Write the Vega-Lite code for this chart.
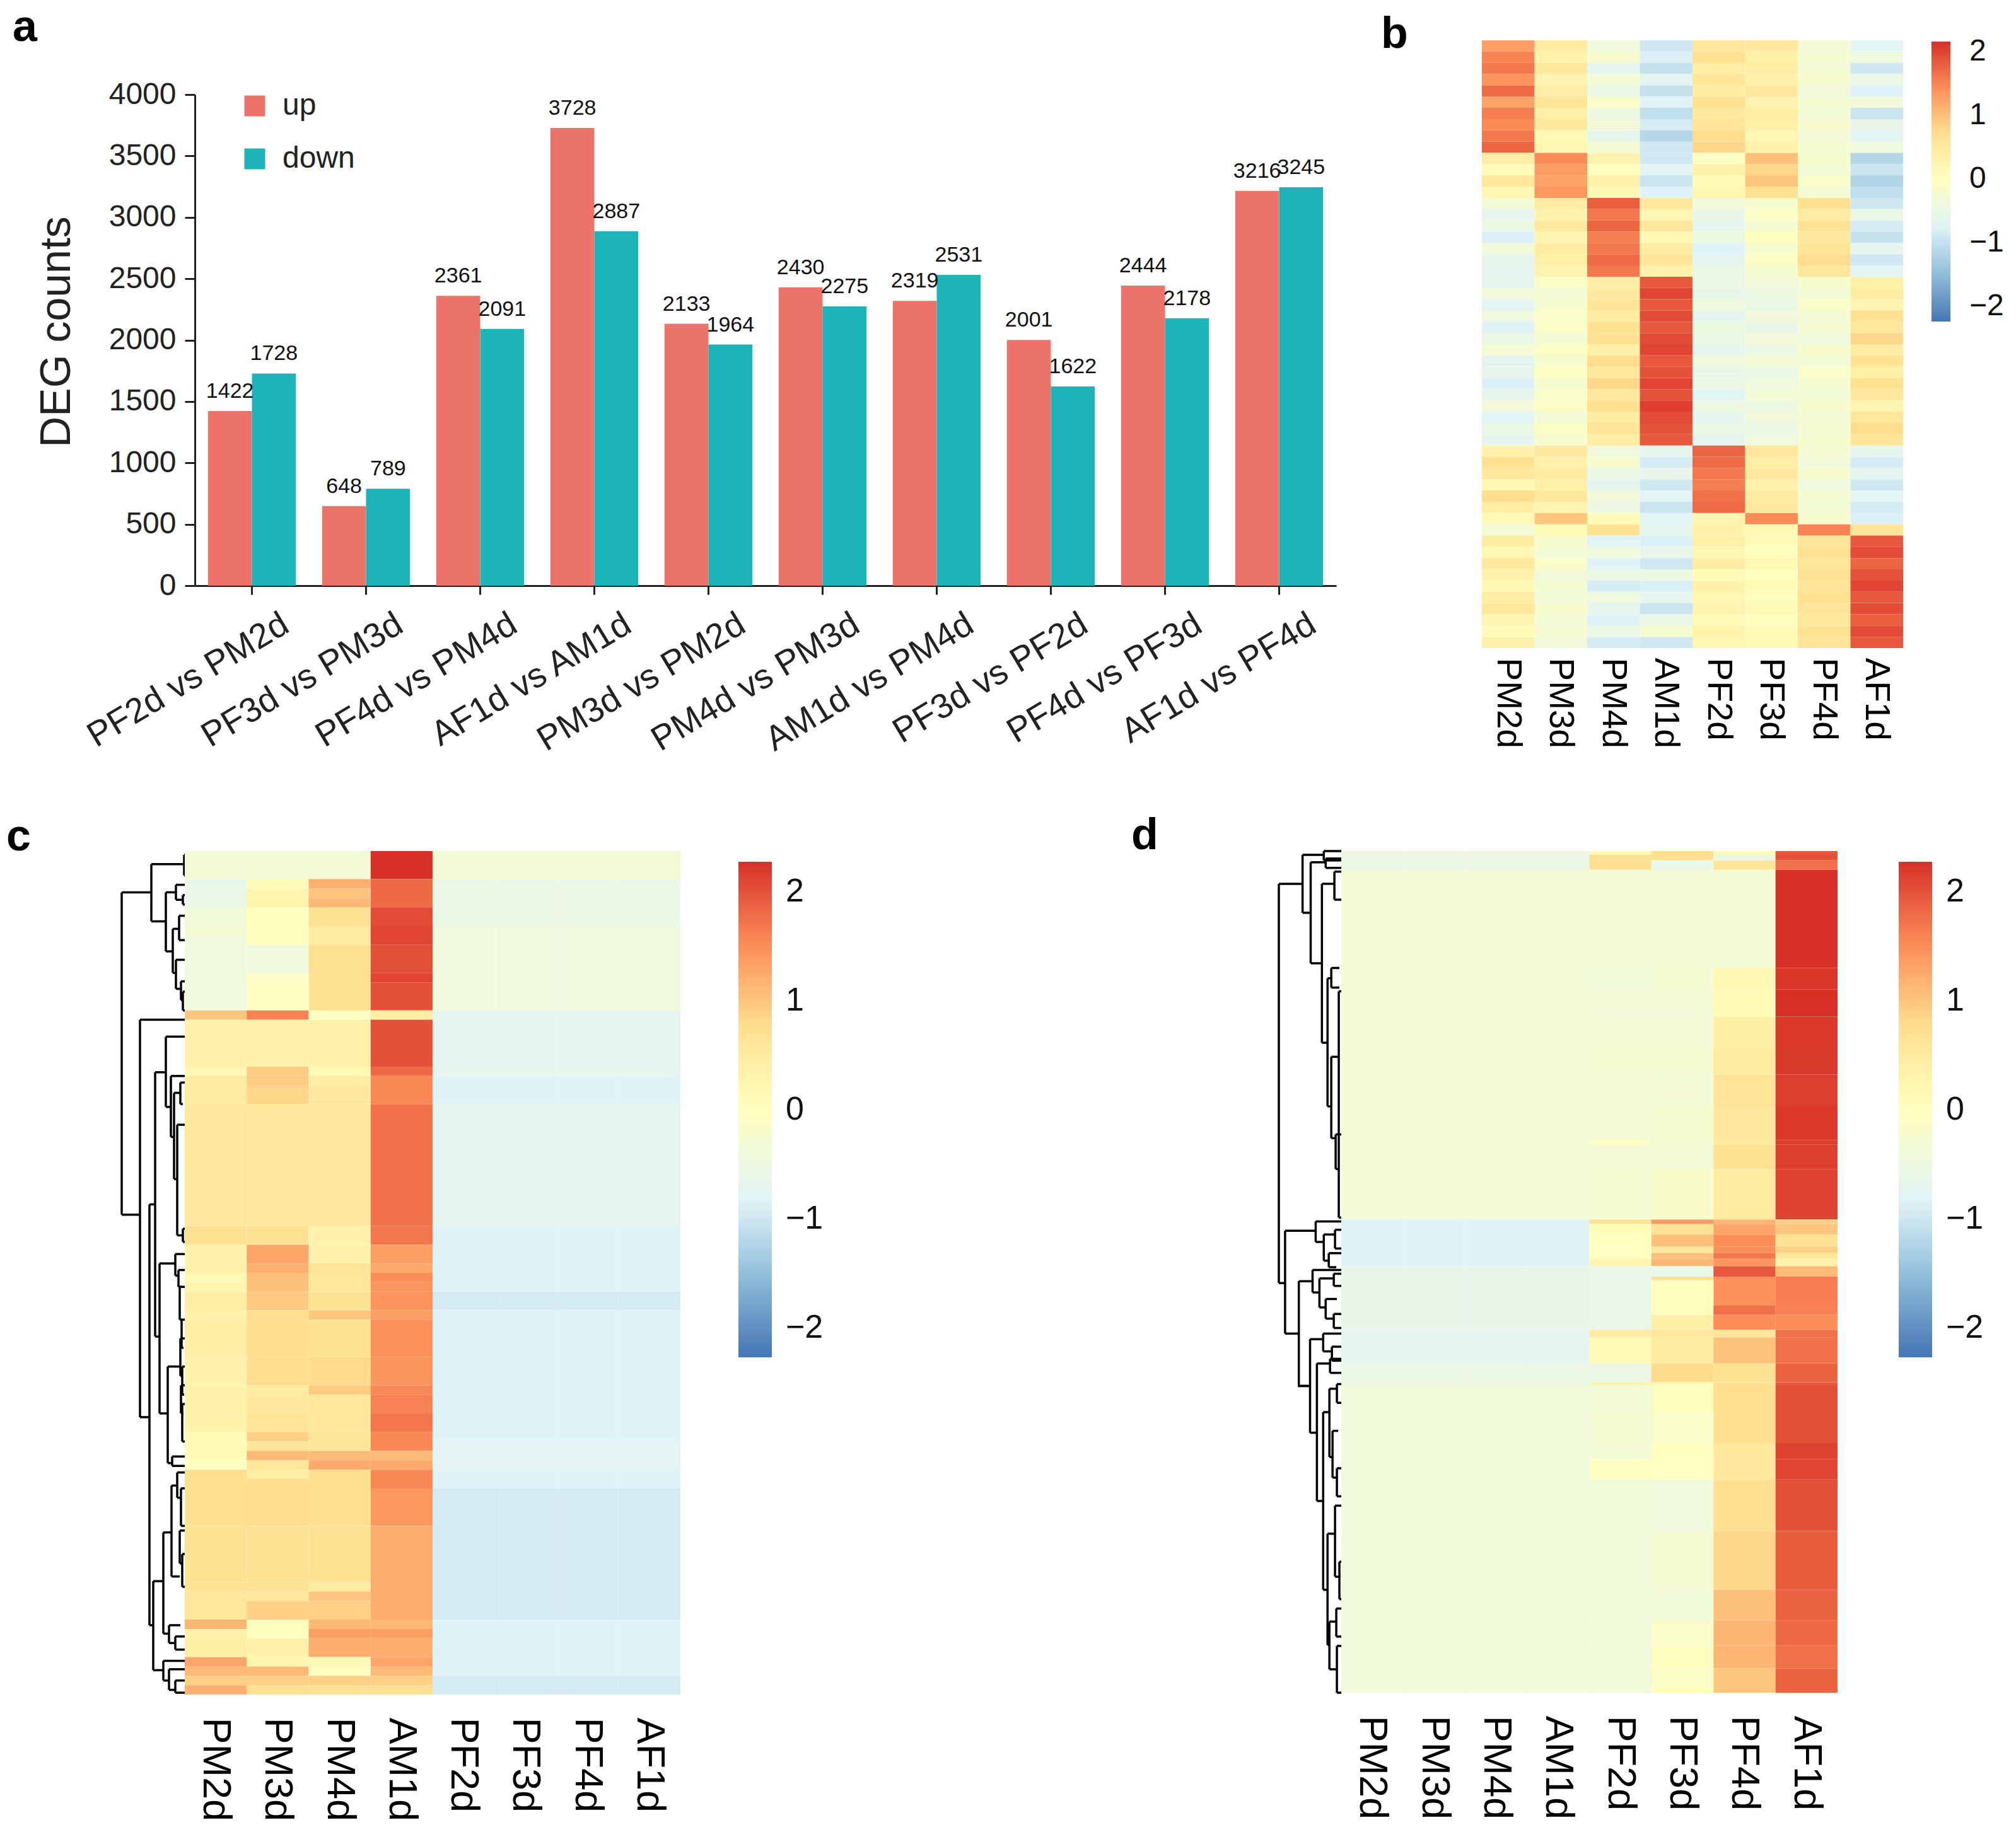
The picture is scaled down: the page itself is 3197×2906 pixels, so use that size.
{"$schema":"https://vega.github.io/schema/vega-lite/v6.json","background":"white","padding":{"left":10,"top":9,"right":0,"bottom":0},"config":{"font":"Liberation Sans","view":{"stroke":null}},"bounds":"flush","spacing":1286,"resolve":{"scale":{"color":"independent"}},
"vconcat":[
{"hconcat":[
{"width":1926,"height":865,"title":{"text":"a","anchor":"start","frame":"group","dx":-173,"dy":20,"fontSize":70,"fontWeight":"bold","color":"black"},
"data":{"values":[{"pair":"PF2d vs PM2d","dir":"up","n":1422},{"pair":"PF2d vs PM2d","dir":"down","n":1728},{"pair":"PF3d vs PM3d","dir":"up","n":648},{"pair":"PF3d vs PM3d","dir":"down","n":789},{"pair":"PF4d vs PM4d","dir":"up","n":2361},{"pair":"PF4d vs PM4d","dir":"down","n":2091},{"pair":"AF1d vs AM1d","dir":"up","n":3728},{"pair":"AF1d vs AM1d","dir":"down","n":2887},{"pair":"PM3d vs PM2d","dir":"up","n":2133},{"pair":"PM3d vs PM2d","dir":"down","n":1964},{"pair":"PM4d vs PM3d","dir":"up","n":2430},{"pair":"PM4d vs PM3d","dir":"down","n":2275},{"pair":"AM1d vs PM4d","dir":"up","n":2319},{"pair":"AM1d vs PM4d","dir":"down","n":2531},{"pair":"PF3d vs PF2d","dir":"up","n":2001},{"pair":"PF3d vs PF2d","dir":"down","n":1622},{"pair":"PF4d vs PF3d","dir":"up","n":2444},{"pair":"PF4d vs PF3d","dir":"down","n":2178},{"pair":"AF1d vs PF4d","dir":"up","n":3216},{"pair":"AF1d vs PF4d","dir":"down","n":3245}]},
"encoding":{"x":{"field":"pair","type":"nominal","sort":null,"title":null,"scale":{"range":[116,1926],"paddingInner":0.23,"paddingOuter":0.115},"axis":{"labelAngle":-31,"labelAlign":"right","labelBaseline":"top","labelFontSize":55,"labelOffset":40,"labelPadding":20,"labelLimit":0,"tickSize":14,"tickWidth":3,"domainWidth":3,"domainColor":"#222","tickColor":"#222","labelColor":"#222"}},"xOffset":{"field":"dir","type":"nominal","sort":["up","down"]}},
"layer":[{"mark":{"type":"bar"},"encoding":{"y":{"field":"n","type":"quantitative","title":"DEG counts","scale":{"domain":[0,4000],"range":[865,86]},"axis":{"values":[0,500,1000,1500,2000,2500,3000,3500,4000],"format":"d","offset":-116,"grid":false,"tickSize":16,"tickWidth":3,"domainWidth":3,"domainColor":"#222","tickColor":"#222","labelColor":"#222","labelFontSize":48,"labelPadding":14,"titleFontSize":68,"titleFontWeight":"normal","titleColor":"#222","titleX":-185,"titleY":462}},"color":{"field":"dir","type":"nominal","scale":{"domain":["up","down"],"range":["#EB7369","#1CB4B8"]},"legend":{"orient":"none","legendX":187,"legendY":80,"title":null,"symbolType":"square","symbolSize":1089,"symbolStrokeWidth":0,"labelFontSize":48,"labelColor":"#222","rowPadding":36,"labelOffset":20}}}},
{"mark":{"type":"text","baseline":"bottom","dy":-14,"fontSize":34,"color":"#111"},"encoding":{"y":{"field":"n","type":"quantitative"},"text":{"field":"n","type":"quantitative","format":"d"}}}]},
{"width":668,"height":964,"title":{"text":"b","anchor":"start","frame":"group","dx":-160,"dy":31,"fontSize":70,"fontWeight":"bold","color":"black"},
"data":{"values":[
{"r":1,"c":"PM2d","v":1.3},{"r":1,"c":"PM3d","v":0.45},{"r":1,"c":"PM4d","v":-0.4},{"r":1,"c":"AM1d","v":-0.9},{"r":1,"c":"PF2d","v":0.55},{"r":1,"c":"PF3d","v":0.5},{"r":1,"c":"PF4d","v":-0.3},{"r":1,"c":"AF1d","v":-0.7},
{"r":2,"c":"PM2d","v":1.5},{"r":2,"c":"PM3d","v":0.3},{"r":2,"c":"PM4d","v":-0.2},{"r":2,"c":"AM1d","v":-0.8},{"r":2,"c":"PF2d","v":0.7},{"r":2,"c":"PF3d","v":0.35},{"r":2,"c":"PF4d","v":-0.25},{"r":2,"c":"AF1d","v":-0.4},
{"r":3,"c":"PM2d","v":1.6},{"r":3,"c":"PM3d","v":0.5},{"r":3,"c":"PM4d","v":-0.6},{"r":3,"c":"AM1d","v":-1.0},{"r":3,"c":"PF2d","v":0.4},{"r":3,"c":"PF3d","v":0.4},{"r":3,"c":"PF4d","v":-0.3},{"r":3,"c":"AF1d","v":-0.9},
{"r":4,"c":"PM2d","v":1.4},{"r":4,"c":"PM3d","v":0.25},{"r":4,"c":"PM4d","v":-0.3},{"r":4,"c":"AM1d","v":-0.65},{"r":4,"c":"PF2d","v":0.6},{"r":4,"c":"PF3d","v":0.3},{"r":4,"c":"PF4d","v":-0.2},{"r":4,"c":"AF1d","v":-0.5},
{"r":5,"c":"PM2d","v":1.7},{"r":5,"c":"PM3d","v":0.4},{"r":5,"c":"PM4d","v":-0.5},{"r":5,"c":"AM1d","v":-1.0},{"r":5,"c":"PF2d","v":0.45},{"r":5,"c":"PF3d","v":0.5},{"r":5,"c":"PF4d","v":-0.35},{"r":5,"c":"AF1d","v":-0.75},
{"r":6,"c":"PM2d","v":1.25},{"r":6,"c":"PM3d","v":0.6},{"r":6,"c":"PM4d","v":-0.15},{"r":6,"c":"AM1d","v":-0.75},{"r":6,"c":"PF2d","v":0.7},{"r":6,"c":"PF3d","v":0.25},{"r":6,"c":"PF4d","v":-0.25},{"r":6,"c":"AF1d","v":-0.35},
{"r":7,"c":"PM2d","v":1.55},{"r":7,"c":"PM3d","v":0.35},{"r":7,"c":"PM4d","v":-0.45},{"r":7,"c":"AM1d","v":-1.05},{"r":7,"c":"PF2d","v":0.5},{"r":7,"c":"PF3d","v":0.4},{"r":7,"c":"PF4d","v":-0.3},{"r":7,"c":"AF1d","v":-0.95},
{"r":8,"c":"PM2d","v":1.45},{"r":8,"c":"PM3d","v":0.5},{"r":8,"c":"PM4d","v":-0.35},{"r":8,"c":"AM1d","v":-0.85},{"r":8,"c":"PF2d","v":0.6},{"r":8,"c":"PF3d","v":0.35},{"r":8,"c":"PF4d","v":-0.2},{"r":8,"c":"AF1d","v":-0.55},
{"r":9,"c":"PM2d","v":1.6},{"r":9,"c":"PM3d","v":0.15},{"r":9,"c":"PM4d","v":-0.6},{"r":9,"c":"AM1d","v":-1.15},{"r":9,"c":"PF2d","v":0.75},{"r":9,"c":"PF3d","v":0.2},{"r":9,"c":"PF4d","v":-0.3},{"r":9,"c":"AF1d","v":-0.7},
{"r":10,"c":"PM2d","v":1.75},{"r":10,"c":"PM3d","v":0.2},{"r":10,"c":"PM4d","v":-0.25},{"r":10,"c":"AM1d","v":-0.9},{"r":10,"c":"PF2d","v":0.8},{"r":10,"c":"PF3d","v":0.3},{"r":10,"c":"PF4d","v":-0.25},{"r":10,"c":"AF1d","v":-0.4},
{"r":11,"c":"PM2d","v":0.4},{"r":11,"c":"PM3d","v":1.45},{"r":11,"c":"PM4d","v":0.25},{"r":11,"c":"AM1d","v":-0.9},{"r":11,"c":"PF2d","v":-0.05},{"r":11,"c":"PF3d","v":1.0},{"r":11,"c":"PF4d","v":-0.2},{"r":11,"c":"AF1d","v":-1.15},
{"r":12,"c":"PM2d","v":0.1},{"r":12,"c":"PM3d","v":1.3},{"r":12,"c":"PM4d","v":0.05},{"r":12,"c":"AM1d","v":-0.7},{"r":12,"c":"PF2d","v":0.3},{"r":12,"c":"PF3d","v":0.8},{"r":12,"c":"PF4d","v":-0.3},{"r":12,"c":"AF1d","v":-0.95},
{"r":13,"c":"PM2d","v":0.55},{"r":13,"c":"PM3d","v":1.25},{"r":13,"c":"PM4d","v":0.3},{"r":13,"c":"AM1d","v":-0.95},{"r":13,"c":"PF2d","v":0.1},{"r":13,"c":"PF3d","v":0.95},{"r":13,"c":"PF4d","v":-0.15},{"r":13,"c":"AF1d","v":-1.2},
{"r":14,"c":"PM2d","v":0.2},{"r":14,"c":"PM3d","v":1.35},{"r":14,"c":"PM4d","v":0.15},{"r":14,"c":"AM1d","v":-0.75},{"r":14,"c":"PF2d","v":0.2},{"r":14,"c":"PF3d","v":0.7},{"r":14,"c":"PF4d","v":-0.25},{"r":14,"c":"AF1d","v":-1.05},
{"r":15,"c":"PM2d","v":-0.3},{"r":15,"c":"PM3d","v":0.45},{"r":15,"c":"PM4d","v":1.8},{"r":15,"c":"AM1d","v":0.5},{"r":15,"c":"PF2d","v":-0.35},{"r":15,"c":"PF3d","v":-0.2},{"r":15,"c":"PF4d","v":0.7},{"r":15,"c":"AF1d","v":-0.9},
{"r":16,"c":"PM2d","v":-0.6},{"r":16,"c":"PM3d","v":0.3},{"r":16,"c":"PM4d","v":1.6},{"r":16,"c":"AM1d","v":0.2},{"r":16,"c":"PF2d","v":-0.55},{"r":16,"c":"PF3d","v":-0.1},{"r":16,"c":"PF4d","v":0.45},{"r":16,"c":"AF1d","v":-0.5},
{"r":17,"c":"PM2d","v":-0.45},{"r":17,"c":"PM3d","v":0.5},{"r":17,"c":"PM4d","v":1.75},{"r":17,"c":"AM1d","v":0.55},{"r":17,"c":"PF2d","v":-0.6},{"r":17,"c":"PF3d","v":-0.25},{"r":17,"c":"PF4d","v":0.65},{"r":17,"c":"AF1d","v":-0.85},
{"r":18,"c":"PM2d","v":-0.8},{"r":18,"c":"PM3d","v":0.25},{"r":18,"c":"PM4d","v":1.55},{"r":18,"c":"AM1d","v":0.15},{"r":18,"c":"PF2d","v":-0.45},{"r":18,"c":"PF3d","v":0.05},{"r":18,"c":"PF4d","v":0.5},{"r":18,"c":"AF1d","v":-1.0},
{"r":19,"c":"PM2d","v":-0.35},{"r":19,"c":"PM3d","v":0.45},{"r":19,"c":"PM4d","v":1.6},{"r":19,"c":"AM1d","v":0.45},{"r":19,"c":"PF2d","v":-0.75},{"r":19,"c":"PF3d","v":-0.2},{"r":19,"c":"PF4d","v":0.6},{"r":19,"c":"AF1d","v":-0.6},
{"r":20,"c":"PM2d","v":-0.55},{"r":20,"c":"PM3d","v":0.35},{"r":20,"c":"PM4d","v":1.7},{"r":20,"c":"AM1d","v":0.6},{"r":20,"c":"PF2d","v":-0.65},{"r":20,"c":"PF3d","v":-0.1},{"r":20,"c":"PF4d","v":0.75},{"r":20,"c":"AF1d","v":-0.9},
{"r":21,"c":"PM2d","v":-0.65},{"r":21,"c":"PM3d","v":0.25},{"r":21,"c":"PM4d","v":1.6},{"r":21,"c":"AM1d","v":0.3},{"r":21,"c":"PF2d","v":-0.5},{"r":21,"c":"PF3d","v":-0.2},{"r":21,"c":"PF4d","v":0.55},{"r":21,"c":"AF1d","v":-0.7},
{"r":22,"c":"PM2d","v":-0.6},{"r":22,"c":"PM3d","v":-0.1},{"r":22,"c":"PM4d","v":0.4},{"r":22,"c":"AM1d","v":1.85},{"r":22,"c":"PF2d","v":-0.5},{"r":22,"c":"PF3d","v":-0.35},{"r":22,"c":"PF4d","v":-0.2},{"r":22,"c":"AF1d","v":0.35},
{"r":23,"c":"PM2d","v":-0.35},{"r":23,"c":"PM3d","v":-0.3},{"r":23,"c":"PM4d","v":0.5},{"r":23,"c":"AM1d","v":2.0},{"r":23,"c":"PF2d","v":-0.55},{"r":23,"c":"PF3d","v":-0.45},{"r":23,"c":"PF4d","v":-0.3},{"r":23,"c":"AF1d","v":0.45},
{"r":24,"c":"PM2d","v":-0.7},{"r":24,"c":"PM3d","v":-0.2},{"r":24,"c":"PM4d","v":0.6},{"r":24,"c":"AM1d","v":1.85},{"r":24,"c":"PF2d","v":-0.4},{"r":24,"c":"PF3d","v":-0.5},{"r":24,"c":"PF4d","v":-0.15},{"r":24,"c":"AF1d","v":0.25},
{"r":25,"c":"PM2d","v":-0.4},{"r":25,"c":"PM3d","v":-0.15},{"r":25,"c":"PM4d","v":0.45},{"r":25,"c":"AM1d","v":1.95},{"r":25,"c":"PF2d","v":-0.65},{"r":25,"c":"PF3d","v":-0.35},{"r":25,"c":"PF4d","v":-0.3},{"r":25,"c":"AF1d","v":0.7},
{"r":26,"c":"PM2d","v":-0.75},{"r":26,"c":"PM3d","v":-0.1},{"r":26,"c":"PM4d","v":0.65},{"r":26,"c":"AM1d","v":1.85},{"r":26,"c":"PF2d","v":-0.45},{"r":26,"c":"PF3d","v":-0.55},{"r":26,"c":"PF4d","v":-0.25},{"r":26,"c":"AF1d","v":0.55},
{"r":27,"c":"PM2d","v":-0.5},{"r":27,"c":"PM3d","v":-0.25},{"r":27,"c":"PM4d","v":0.7},{"r":27,"c":"AM1d","v":1.95},{"r":27,"c":"PF2d","v":-0.5},{"r":27,"c":"PF3d","v":-0.35},{"r":27,"c":"PF4d","v":-0.4},{"r":27,"c":"AF1d","v":0.8},
{"r":28,"c":"PM2d","v":-0.3},{"r":28,"c":"PM3d","v":-0.1},{"r":28,"c":"PM4d","v":0.35},{"r":28,"c":"AM1d","v":2.0},{"r":28,"c":"PF2d","v":-0.6},{"r":28,"c":"PF3d","v":-0.45},{"r":28,"c":"PF4d","v":-0.2},{"r":28,"c":"AF1d","v":0.45},
{"r":29,"c":"PM2d","v":-0.65},{"r":29,"c":"PM3d","v":-0.2},{"r":29,"c":"PM4d","v":0.75},{"r":29,"c":"AM1d","v":1.85},{"r":29,"c":"PF2d","v":-0.4},{"r":29,"c":"PF3d","v":-0.3},{"r":29,"c":"PF4d","v":-0.3},{"r":29,"c":"AF1d","v":0.65},
{"r":30,"c":"PM2d","v":-0.55},{"r":30,"c":"PM3d","v":-0.05},{"r":30,"c":"PM4d","v":0.55},{"r":30,"c":"AM1d","v":1.9},{"r":30,"c":"PF2d","v":-0.55},{"r":30,"c":"PF3d","v":-0.5},{"r":30,"c":"PF4d","v":-0.15},{"r":30,"c":"AF1d","v":0.35},
{"r":31,"c":"PM2d","v":-0.8},{"r":31,"c":"PM3d","v":-0.2},{"r":31,"c":"PM4d","v":0.8},{"r":31,"c":"AM1d","v":2.0},{"r":31,"c":"PF2d","v":-0.5},{"r":31,"c":"PF3d","v":-0.4},{"r":31,"c":"PF4d","v":-0.25},{"r":31,"c":"AF1d","v":0.7},
{"r":32,"c":"PM2d","v":-0.6},{"r":32,"c":"PM3d","v":-0.15},{"r":32,"c":"PM4d","v":0.5},{"r":32,"c":"AM1d","v":1.9},{"r":32,"c":"PF2d","v":-0.7},{"r":32,"c":"PF3d","v":-0.3},{"r":32,"c":"PF4d","v":-0.3},{"r":32,"c":"AF1d","v":0.5},
{"r":33,"c":"PM2d","v":-0.35},{"r":33,"c":"PM3d","v":-0.1},{"r":33,"c":"PM4d","v":0.7},{"r":33,"c":"AM1d","v":2.05},{"r":33,"c":"PF2d","v":-0.45},{"r":33,"c":"PF3d","v":-0.45},{"r":33,"c":"PF4d","v":-0.2},{"r":33,"c":"AF1d","v":0.25},
{"r":34,"c":"PM2d","v":-0.7},{"r":34,"c":"PM3d","v":-0.3},{"r":34,"c":"PM4d","v":0.45},{"r":34,"c":"AM1d","v":1.95},{"r":34,"c":"PF2d","v":-0.6},{"r":34,"c":"PF3d","v":-0.35},{"r":34,"c":"PF4d","v":-0.3},{"r":34,"c":"AF1d","v":0.55},
{"r":35,"c":"PM2d","v":-0.5},{"r":35,"c":"PM3d","v":-0.1},{"r":35,"c":"PM4d","v":0.6},{"r":35,"c":"AM1d","v":1.9},{"r":35,"c":"PF2d","v":-0.5},{"r":35,"c":"PF3d","v":-0.5},{"r":35,"c":"PF4d","v":-0.25},{"r":35,"c":"AF1d","v":0.75},
{"r":36,"c":"PM2d","v":-0.6},{"r":36,"c":"PM3d","v":-0.2},{"r":36,"c":"PM4d","v":0.4},{"r":36,"c":"AM1d","v":1.85},{"r":36,"c":"PF2d","v":-0.65},{"r":36,"c":"PF3d","v":-0.4},{"r":36,"c":"PF4d","v":-0.2},{"r":36,"c":"AF1d","v":0.6},
{"r":37,"c":"PM2d","v":0.3},{"r":37,"c":"PM3d","v":0.5},{"r":37,"c":"PM4d","v":-0.4},{"r":37,"c":"AM1d","v":-0.6},{"r":37,"c":"PF2d","v":1.75},{"r":37,"c":"PF3d","v":0.55},{"r":37,"c":"PF4d","v":-0.25},{"r":37,"c":"AF1d","v":-0.6},
{"r":38,"c":"PM2d","v":0.7},{"r":38,"c":"PM3d","v":0.3},{"r":38,"c":"PM4d","v":-0.2},{"r":38,"c":"AM1d","v":-0.85},{"r":38,"c":"PF2d","v":1.7},{"r":38,"c":"PF3d","v":0.4},{"r":38,"c":"PF4d","v":-0.35},{"r":38,"c":"AF1d","v":-0.85},
{"r":39,"c":"PM2d","v":0.55},{"r":39,"c":"PM3d","v":0.45},{"r":39,"c":"PM4d","v":-0.5},{"r":39,"c":"AM1d","v":-0.55},{"r":39,"c":"PF2d","v":1.6},{"r":39,"c":"PF3d","v":0.5},{"r":39,"c":"PF4d","v":-0.2},{"r":39,"c":"AF1d","v":-0.65},
{"r":40,"c":"PM2d","v":0.2},{"r":40,"c":"PM3d","v":0.35},{"r":40,"c":"PM4d","v":-0.6},{"r":40,"c":"AM1d","v":-0.9},{"r":40,"c":"PF2d","v":1.55},{"r":40,"c":"PF3d","v":0.3},{"r":40,"c":"PF4d","v":-0.4},{"r":40,"c":"AF1d","v":-0.9},
{"r":41,"c":"PM2d","v":0.75},{"r":41,"c":"PM3d","v":0.5},{"r":41,"c":"PM4d","v":-0.35},{"r":41,"c":"AM1d","v":-0.7},{"r":41,"c":"PF2d","v":1.65},{"r":41,"c":"PF3d","v":0.45},{"r":41,"c":"PF4d","v":-0.25},{"r":41,"c":"AF1d","v":-0.7},
{"r":42,"c":"PM2d","v":0.4},{"r":42,"c":"PM3d","v":0.25},{"r":42,"c":"PM4d","v":-0.45},{"r":42,"c":"AM1d","v":-0.95},{"r":42,"c":"PF2d","v":1.7},{"r":42,"c":"PF3d","v":0.5},{"r":42,"c":"PF4d","v":-0.3},{"r":42,"c":"AF1d","v":-0.85},
{"r":43,"c":"PM2d","v":0.15},{"r":43,"c":"PM3d","v":0.95},{"r":43,"c":"PM4d","v":0.1},{"r":43,"c":"AM1d","v":-0.7},{"r":43,"c":"PF2d","v":0.25},{"r":43,"c":"PF3d","v":1.45},{"r":43,"c":"PF4d","v":-0.2},{"r":43,"c":"AF1d","v":-0.8},
{"r":44,"c":"PM2d","v":-0.3},{"r":44,"c":"PM3d","v":0.1},{"r":44,"c":"PM4d","v":0.7},{"r":44,"c":"AM1d","v":-0.6},{"r":44,"c":"PF2d","v":0.3},{"r":44,"c":"PF3d","v":0.15},{"r":44,"c":"PF4d","v":1.5},{"r":44,"c":"AF1d","v":0.6},
{"r":45,"c":"PM2d","v":0.45},{"r":45,"c":"PM3d","v":-0.2},{"r":45,"c":"PM4d","v":-0.7},{"r":45,"c":"AM1d","v":-0.8},{"r":45,"c":"PF2d","v":0.35},{"r":45,"c":"PF3d","v":0.1},{"r":45,"c":"PF4d","v":0.6},{"r":45,"c":"AF1d","v":1.85},
{"r":46,"c":"PM2d","v":0.2},{"r":46,"c":"PM3d","v":-0.3},{"r":46,"c":"PM4d","v":-0.4},{"r":46,"c":"AM1d","v":-0.55},{"r":46,"c":"PF2d","v":0.2},{"r":46,"c":"PF3d","v":0.05},{"r":46,"c":"PF4d","v":0.7},{"r":46,"c":"AF1d","v":1.95},
{"r":47,"c":"PM2d","v":0.5},{"r":47,"c":"PM3d","v":-0.15},{"r":47,"c":"PM4d","v":-0.75},{"r":47,"c":"AM1d","v":-0.9},{"r":47,"c":"PF2d","v":0.4},{"r":47,"c":"PF3d","v":0.15},{"r":47,"c":"PF4d","v":0.55},{"r":47,"c":"AF1d","v":1.75},
{"r":48,"c":"PM2d","v":0.3},{"r":48,"c":"PM3d","v":-0.35},{"r":48,"c":"PM4d","v":-0.5},{"r":48,"c":"AM1d","v":-0.45},{"r":48,"c":"PF2d","v":0.1},{"r":48,"c":"PF3d","v":0},{"r":48,"c":"PF4d","v":0.65},{"r":48,"c":"AF1d","v":1.9},
{"r":49,"c":"PM2d","v":0.15},{"r":49,"c":"PM3d","v":-0.25},{"r":49,"c":"PM4d","v":-0.85},{"r":49,"c":"AM1d","v":-0.8},{"r":49,"c":"PF2d","v":0.3},{"r":49,"c":"PF3d","v":0.1},{"r":49,"c":"PF4d","v":0.6},{"r":49,"c":"AF1d","v":2.0},
{"r":50,"c":"PM2d","v":0.4},{"r":50,"c":"PM3d","v":-0.3},{"r":50,"c":"PM4d","v":-0.4},{"r":50,"c":"AM1d","v":-0.6},{"r":50,"c":"PF2d","v":0.2},{"r":50,"c":"PF3d","v":0.05},{"r":50,"c":"PF4d","v":0.7},{"r":50,"c":"AF1d","v":1.85},
{"r":51,"c":"PM2d","v":0.55},{"r":51,"c":"PM3d","v":-0.2},{"r":51,"c":"PM4d","v":-0.6},{"r":51,"c":"AM1d","v":-0.95},{"r":51,"c":"PF2d","v":0.25},{"r":51,"c":"PF3d","v":0.15},{"r":51,"c":"PF4d","v":0.6},{"r":51,"c":"AF1d","v":1.95},
{"r":52,"c":"PM2d","v":0.25},{"r":52,"c":"PM3d","v":-0.3},{"r":52,"c":"PM4d","v":-0.75},{"r":52,"c":"AM1d","v":-0.5},{"r":52,"c":"PF2d","v":0.1},{"r":52,"c":"PF3d","v":0.05},{"r":52,"c":"PF4d","v":0.55},{"r":52,"c":"AF1d","v":1.8},
{"r":53,"c":"PM2d","v":0.1},{"r":53,"c":"PM3d","v":-0.25},{"r":53,"c":"PM4d","v":-0.5},{"r":53,"c":"AM1d","v":-0.2},{"r":53,"c":"PF2d","v":0.3},{"r":53,"c":"PF3d","v":0.1},{"r":53,"c":"PF4d","v":0.65},{"r":53,"c":"AF1d","v":1.95},
{"r":54,"c":"PM2d","v":0.35},{"r":54,"c":"PM3d","v":-0.35},{"r":54,"c":"PM4d","v":-0.85},{"r":54,"c":"AM1d","v":-0.9},{"r":54,"c":"PF2d","v":0.2},{"r":54,"c":"PF3d","v":0.15},{"r":54,"c":"PF4d","v":0.6},{"r":54,"c":"AF1d","v":1.85}
]},
"mark":{"type":"rect"},"encoding":{"x":{"field":"c","type":"nominal","sort":null,"title":null,"axis":{"labelAngle":90,"labelAlign":"left","labelBaseline":"middle","labelFontSize":55,"labelPadding":15,"ticks":false,"domain":false}},"y":{"field":"r","type":"ordinal","axis":null},"color":{"field":"v","type":"quantitative","scale":{"interpolate":"rgb","domain":[-2.24,-1.49,-0.75,0,0.72,1.44,2.16],"range":["#4575B4","#91BFDB","#E0F3F8","#FFFFBF","#FEE090","#FC8D59","#D73027"]},"legend":{"orient":"none","legendX":713,"legendY":2,"title":null,"values":[-2,-1,0,1,2],"format":"d","gradientLength":444,"gradientThickness":30,"gradientStrokeWidth":0,"labelFontSize":48,"labelColor":"#111","labelOffset":30}}}}
],"spacing":231,"bounds":"flush","resolve":{"scale":{"color":"independent"}}},
{"hconcat":[
{"hconcat":[
{"width":100,"height":1338,"title":{"text":"c","anchor":"start","frame":"group","dx":-183,"dy":18,"fontSize":70,"fontWeight":"bold","color":"black"},
"data":{"values":[{"h":0,"t":4.4,"b":38.8,"a":47,"c":29},{"h":47,"t":1.4,"b":7.5,"a":99,"c":70},{"h":99,"t":0.4,"b":2.6,"a":100,"c":100},{"h":70,"t":4.4,"b":10.7,"a":86,"c":81},{"h":86,"t":3.6,"b":5.2,"a":100,"c":97},{"h":97,"t":4.7,"b":5.7,"a":100,"c":100},{"h":81,"t":8.3,"b":13,"a":91,"c":86},{"h":91,"t":6.9,"b":9.5,"a":100,"c":100},{"h":86,"t":11.6,"b":14.7,"a":100,"c":94},{"h":94,"t":13.9,"b":15.9,"a":100,"c":97},{"h":97,"t":15,"b":17,"a":100,"c":100},{"h":29,"t":18,"b":60.4,"a":100,"c":44},{"h":44,"t":37.7,"b":82.6,"a":53,"c":50},{"h":53,"t":23.6,"b":51.8,"a":70,"c":60},{"h":70,"t":19.8,"b":27.3,"a":100,"c":78},{"h":78,"t":24,"b":30.5,"a":100,"c":83},{"h":83,"t":25.8,"b":35,"a":93,"c":88},{"h":93,"t":24.7,"b":27,"a":100,"c":97},{"h":88,"t":29.2,"b":41,"a":100,"c":97},{"h":97,"t":40.3,"b":41.7,"a":100,"c":100},{"h":60,"t":44,"b":60,"a":85,"c":73},{"h":85,"t":43,"b":45.3,"a":100,"c":90},{"h":90,"t":44.7,"b":46.5,"a":100,"c":96},{"h":73,"t":55,"b":65.3,"a":93,"c":80},{"h":80,"t":64.6,"b":65.6,"a":100,"c":100},{"h":92,"t":46.5,"b":50,"a":100,"c":96},{"h":95,"t":50,"b":53,"a":100,"c":98},{"h":93,"t":52,"b":56,"a":100,"c":97},{"h":96,"t":55,"b":58,"a":100,"c":99},{"h":94,"t":57,"b":60,"a":100,"c":98},{"h":96,"t":59,"b":63,"a":100,"c":100},{"h":50,"t":77.9,"b":87.4,"a":66,"c":66},{"h":66,"t":72.7,"b":83.5,"a":79,"c":75},{"h":79,"t":67.7,"b":77.4,"a":88,"c":92},{"h":88,"t":66.3,"b":69,"a":100,"c":94},{"h":94,"t":68,"b":72,"a":100,"c":100},{"h":92,"t":72.5,"b":76,"a":100,"c":96},{"h":96,"t":75,"b":78.5,"a":100,"c":100},{"h":75,"t":82.6,"b":84.5,"a":93,"c":85},{"h":85,"t":83.8,"b":85.2,"a":100,"c":100},{"h":66,"t":86.4,"b":88.5,"a":100,"c":75},{"h":75,"t":87.3,"b":89.5,"a":100,"c":85},{"h":85,"t":88.5,"b":89.8,"a":100,"c":100}]},
"encoding":{"y":{"field":"t","type":"quantitative","axis":null,"scale":{"domain":[0,90],"reverse":true,"nice":false}}},
"layer":[{"mark":{"type":"rule","color":"black","strokeWidth":3.5},"encoding":{"x":{"field":"h","type":"quantitative","axis":null,"scale":{"domain":[0,100],"nice":false}},"y2":{"field":"b"}}},{"mark":{"type":"rule","color":"black","strokeWidth":3.5},"encoding":{"x":{"field":"h","type":"quantitative"},"x2":{"field":"a"}}},{"mark":{"type":"rule","color":"black","strokeWidth":3.5},"encoding":{"x":{"field":"h","type":"quantitative"},"x2":{"field":"c"},"y":{"field":"b","type":"quantitative"}}}]},
{"width":786,"height":1338,"data":{"values":[
{"c":"PM2d","t":0,"b":3,"v":-0.35},{"c":"PM3d","t":0,"b":3,"v":-0.35},{"c":"PM4d","t":0,"b":3,"v":-0.35},{"c":"AM1d","t":0,"b":3,"v":2.25},
{"c":"PM2d","t":3,"b":6,"v":-0.6},{"c":"PM3d","t":3,"b":4,"v":0.1},{"c":"PM4d","t":3,"b":4,"v":1.2},{"c":"AM1d","t":3,"b":6,"v":1.8},
{"c":"PM3d","t":4,"b":6,"v":0.25},{"c":"PM4d","t":4,"b":5,"v":1.0},{"c":"PM4d","t":5,"b":6,"v":1.1},
{"c":"PM2d","t":6,"b":8,"v":-0.4},{"c":"PM3d","t":6,"b":10,"v":0.05},{"c":"PM4d","t":6,"b":8,"v":0.7},{"c":"AM1d","t":6,"b":8,"v":2.05},
{"c":"PM2d","t":8,"b":9,"v":-0.3},{"c":"PM4d","t":8,"b":10,"v":0.5},{"c":"AM1d","t":8,"b":10,"v":2.1},{"c":"PM2d","t":9,"b":17,"v":-0.45},
{"c":"PM3d","t":10,"b":13,"v":-0.45},{"c":"PM4d","t":10,"b":17,"v":0.72},{"c":"AM1d","t":10,"b":13,"v":2.02},{"c":"PM3d","t":13,"b":14,"v":-0.15},{"c":"AM1d","t":13,"b":14,"v":2.1},{"c":"PM3d","t":14,"b":17,"v":-0.05},{"c":"AM1d","t":14,"b":17,"v":2.0},
{"c":"PM2d","t":17,"b":18,"v":1.0},{"c":"PM3d","t":17,"b":18,"v":1.6},{"c":"PM4d","t":17,"b":18,"v":-0.05},{"c":"AM1d","t":17,"b":18,"v":0.45},
{"c":"PM2d","t":18,"b":23,"v":0.35},{"c":"PM3d","t":18,"b":23,"v":0.35},{"c":"PM4d","t":18,"b":23,"v":0.35},{"c":"AM1d","t":18,"b":23,"v":2.0},
{"c":"PM2d","t":23,"b":24,"v":0.2},{"c":"PM3d","t":23,"b":24,"v":0.95},{"c":"PM4d","t":23,"b":24,"v":0.15},{"c":"AM1d","t":23,"b":24,"v":1.8},
{"c":"PM2d","t":24,"b":27,"v":0.5},{"c":"PM3d","t":24,"b":25,"v":0.95},{"c":"PM4d","t":24,"b":25,"v":0.45},{"c":"AM1d","t":24,"b":27,"v":1.55},{"c":"PM3d","t":25,"b":27,"v":0.85},{"c":"PM4d","t":25,"b":27,"v":0.55},
{"c":"PM2d","t":27,"b":40,"v":0.55},{"c":"PM3d","t":27,"b":40,"v":0.55},{"c":"PM4d","t":27,"b":40,"v":0.55},{"c":"AM1d","t":27,"b":40,"v":1.72},
{"c":"PM2d","t":40,"b":42,"v":0.7},{"c":"PM3d","t":40,"b":42,"v":0.7},{"c":"PM4d","t":40,"b":42,"v":0.3},{"c":"AM1d","t":40,"b":42,"v":1.7},
{"c":"PM2d","t":42,"b":45,"v":0.3},{"c":"PM3d","t":42,"b":44,"v":1.3},{"c":"PM4d","t":42,"b":44,"v":0.3},{"c":"AM1d","t":42,"b":44,"v":1.35},{"c":"PM3d","t":44,"b":45,"v":1.2},{"c":"PM4d","t":44,"b":45,"v":0.65},{"c":"AM1d","t":44,"b":45,"v":1.25},
{"c":"PM2d","t":45,"b":46,"v":0.15},{"c":"PM3d","t":45,"b":47,"v":1.05},{"c":"PM4d","t":45,"b":47,"v":0.6},{"c":"AM1d","t":45,"b":46,"v":1.5},{"c":"PM2d","t":46,"b":47,"v":0.25},{"c":"AM1d","t":46,"b":47,"v":1.45},
{"c":"PM2d","t":47,"b":49,"v":0.45},{"c":"PM3d","t":47,"b":49,"v":0.97},{"c":"PM4d","t":47,"b":49,"v":0.68},{"c":"AM1d","t":47,"b":49,"v":1.45},
{"c":"PM2d","t":49,"b":50,"v":0.35},{"c":"PM3d","t":49,"b":50,"v":0.75},{"c":"PM4d","t":49,"b":50,"v":1.0},{"c":"AM1d","t":49,"b":50,"v":1.35},
{"c":"PM2d","t":50,"b":54,"v":0.42},{"c":"PM3d","t":50,"b":54,"v":0.78},{"c":"PM4d","t":50,"b":54,"v":0.72},{"c":"AM1d","t":50,"b":54,"v":1.48},
{"c":"PM2d","t":54,"b":57,"v":0.32},{"c":"PM3d","t":54,"b":57,"v":0.78},{"c":"PM4d","t":54,"b":57,"v":0.8},{"c":"AM1d","t":54,"b":57,"v":1.43},
{"c":"PM2d","t":57,"b":62,"v":0.3},{"c":"PM3d","t":57,"b":58,"v":0.5},{"c":"PM4d","t":57,"b":58,"v":0.95},{"c":"AM1d","t":57,"b":58,"v":1.55},{"c":"PM3d","t":58,"b":60,"v":0.55},{"c":"PM4d","t":58,"b":62,"v":0.6},{"c":"AM1d","t":58,"b":60,"v":1.6},{"c":"PM3d","t":60,"b":62,"v":0.65},{"c":"AM1d","t":60,"b":62,"v":1.7},
{"c":"PM2d","t":62,"b":65,"v":0.08},{"c":"PM3d","t":62,"b":63,"v":0.9},{"c":"PM4d","t":62,"b":64,"v":0.62},{"c":"AM1d","t":62,"b":64,"v":1.55},{"c":"PM3d","t":63,"b":64,"v":0.65},{"c":"PM3d","t":64,"b":65,"v":1.1},{"c":"PM4d","t":64,"b":65,"v":1.1},{"c":"AM1d","t":64,"b":65,"v":1.1},
{"c":"PM2d","t":65,"b":66,"v":-0.02},{"c":"PM3d","t":65,"b":66,"v":0.6},{"c":"PM4d","t":65,"b":66,"v":1.25},{"c":"AM1d","t":65,"b":66,"v":1.25},
{"c":"PM2d","t":66,"b":72,"v":0.75},{"c":"PM3d","t":66,"b":67,"v":0.45},{"c":"PM4d","t":66,"b":68,"v":0.75},{"c":"AM1d","t":66,"b":68,"v":1.55},{"c":"PM3d","t":67,"b":72,"v":0.78},{"c":"PM4d","t":68,"b":72,"v":0.75},{"c":"AM1d","t":68,"b":72,"v":1.4},
{"c":"PM2d","t":72,"b":78,"v":0.72},{"c":"PM3d","t":72,"b":78,"v":0.7},{"c":"PM4d","t":72,"b":78,"v":0.7},{"c":"AM1d","t":72,"b":82,"v":1.22},
{"c":"PM2d","t":78,"b":79,"v":0.7},{"c":"PM3d","t":78,"b":79,"v":0.7},{"c":"PM4d","t":78,"b":79,"v":0.5},{"c":"PM2d","t":79,"b":82,"v":0.6},{"c":"PM3d","t":79,"b":80,"v":0.6},{"c":"PM4d","t":79,"b":80,"v":1.0},{"c":"PM3d","t":80,"b":82,"v":0.9},{"c":"PM4d","t":80,"b":82,"v":0.9},
{"c":"PM2d","t":82,"b":83,"v":1.15},{"c":"PM3d","t":82,"b":83,"v":0.05},{"c":"PM4d","t":82,"b":83,"v":1.1},{"c":"AM1d","t":82,"b":83,"v":1.1},
{"c":"PM2d","t":83,"b":84,"v":0.35},{"c":"PM3d","t":83,"b":84,"v":0.03},{"c":"PM4d","t":83,"b":84,"v":1.35},{"c":"AM1d","t":83,"b":84,"v":1.35},
{"c":"PM2d","t":84,"b":86,"v":0.4},{"c":"PM3d","t":84,"b":86,"v":0.3},{"c":"PM4d","t":84,"b":86,"v":1.22},{"c":"AM1d","t":84,"b":86,"v":1.22},
{"c":"PM2d","t":86,"b":87,"v":1.3},{"c":"PM3d","t":86,"b":87,"v":0.25},{"c":"PM4d","t":86,"b":87,"v":0.15},{"c":"AM1d","t":86,"b":87,"v":1.3},
{"c":"PM2d","t":87,"b":88,"v":1.1},{"c":"PM3d","t":87,"b":88,"v":1.1},{"c":"PM4d","t":87,"b":88,"v":0.02},{"c":"AM1d","t":87,"b":88,"v":1.1},
{"c":"PM2d","t":88,"b":89,"v":0.9},{"c":"PM3d","t":88,"b":89,"v":0.9},{"c":"PM4d","t":88,"b":89,"v":0.9},{"c":"AM1d","t":88,"b":89,"v":0.9},
{"c":"PM2d","t":89,"b":90,"v":1.2},{"c":"PM3d","t":89,"b":90,"v":0.75},{"c":"PM4d","t":89,"b":90,"v":0.75},{"c":"AM1d","t":89,"b":90,"v":0.75},
{"c":"PF2d","t":0,"b":3,"v":-0.35},{"c":"PF3d","t":0,"b":3,"v":-0.35},{"c":"PF4d","t":0,"b":3,"v":-0.35},{"c":"AF1d","t":0,"b":3,"v":-0.35},
{"c":"PF2d","t":3,"b":8,"v":-0.53},{"c":"PF3d","t":3,"b":8,"v":-0.53},{"c":"PF4d","t":3,"b":8,"v":-0.53},{"c":"AF1d","t":3,"b":8,"v":-0.53},
{"c":"PF2d","t":8,"b":17,"v":-0.45},{"c":"PF3d","t":8,"b":17,"v":-0.45},{"c":"PF4d","t":8,"b":17,"v":-0.45},{"c":"AF1d","t":8,"b":17,"v":-0.45},
{"c":"PF2d","t":17,"b":24,"v":-0.68},{"c":"PF3d","t":17,"b":24,"v":-0.68},{"c":"PF4d","t":17,"b":24,"v":-0.68},{"c":"AF1d","t":17,"b":24,"v":-0.68},
{"c":"PF2d","t":24,"b":27,"v":-0.85},{"c":"PF3d","t":24,"b":27,"v":-0.85},{"c":"PF4d","t":24,"b":27,"v":-0.85},{"c":"AF1d","t":24,"b":27,"v":-0.85},
{"c":"PF2d","t":27,"b":40,"v":-0.75},{"c":"PF3d","t":27,"b":40,"v":-0.75},{"c":"PF4d","t":27,"b":40,"v":-0.75},{"c":"AF1d","t":27,"b":40,"v":-0.75},
{"c":"PF2d","t":40,"b":47,"v":-0.85},{"c":"PF3d","t":40,"b":47,"v":-0.85},{"c":"PF4d","t":40,"b":47,"v":-0.85},{"c":"AF1d","t":40,"b":47,"v":-0.85},
{"c":"PF2d","t":47,"b":49,"v":-0.95},{"c":"PF3d","t":47,"b":49,"v":-0.95},{"c":"PF4d","t":47,"b":49,"v":-0.95},{"c":"AF1d","t":47,"b":49,"v":-0.95},
{"c":"PF2d","t":49,"b":63,"v":-0.85},{"c":"PF3d","t":49,"b":63,"v":-0.85},{"c":"PF4d","t":49,"b":63,"v":-0.85},{"c":"AF1d","t":49,"b":63,"v":-0.85},
{"c":"PF2d","t":63,"b":66,"v":-0.76},{"c":"PF3d","t":63,"b":66,"v":-0.76},{"c":"PF4d","t":63,"b":66,"v":-0.76},{"c":"AF1d","t":63,"b":66,"v":-0.76},
{"c":"PF2d","t":66,"b":68,"v":-0.85},{"c":"PF3d","t":66,"b":68,"v":-0.85},{"c":"PF4d","t":66,"b":68,"v":-0.85},{"c":"AF1d","t":66,"b":68,"v":-0.85},
{"c":"PF2d","t":68,"b":82,"v":-0.95},{"c":"PF3d","t":68,"b":82,"v":-0.95},{"c":"PF4d","t":68,"b":82,"v":-0.95},{"c":"AF1d","t":68,"b":82,"v":-0.95},
{"c":"PF2d","t":82,"b":88,"v":-0.85},{"c":"PF3d","t":82,"b":88,"v":-0.85},{"c":"PF4d","t":82,"b":88,"v":-0.85},{"c":"AF1d","t":82,"b":88,"v":-0.85},
{"c":"PF2d","t":88,"b":90,"v":-0.95},{"c":"PF3d","t":88,"b":90,"v":-0.95},{"c":"PF4d","t":88,"b":90,"v":-0.95},{"c":"AF1d","t":88,"b":90,"v":-0.95}
]},
"mark":{"type":"rect"},"encoding":{"x":{"field":"c","type":"nominal","sort":["PM2d","PM3d","PM4d","AM1d","PF2d","PF3d","PF4d","AF1d"],"title":null,"axis":{"labelAngle":90,"labelAlign":"left","labelBaseline":"middle","labelFontSize":63,"labelPadding":36,"ticks":false,"domain":false}},"y":{"field":"t","type":"quantitative","axis":null,"scale":{"domain":[0,90],"reverse":true,"nice":false}},"y2":{"field":"b"},"color":{"field":"v","type":"quantitative","scale":{"interpolate":"rgb","domain":[-2.27,-1.51,-0.85,0,0.757,1.51,2.27],"range":["#4575B4","#91BFDB","#E0F3F8","#FFFFBF","#FEE090","#FC8D59","#D73027"]},"legend":{"orient":"none","legendX":878,"legendY":17,"title":null,"values":[-2,-1,0,1,2],"format":"d","gradientLength":786,"gradientThickness":53,"gradientStrokeWidth":0,"labelFontSize":52,"labelColor":"#111","labelOffset":22}}}}
],"spacing":0,"bounds":"flush","resolve":{"scale":{"color":"independent"}}},
{"hconcat":[
{"width":99,"height":1335,"title":{"text":"d","anchor":"start","frame":"group","dx":-234,"dy":18,"fontSize":70,"fontWeight":"bold","color":"black"},
"data":{"values":[{"h":0,"t":3.5,"b":46.2,"a":38,"c":10},{"h":38,"t":0.4,"b":6.6,"a":72,"c":51},{"h":72,"t":0,"b":1,"a":100,"c":100},{"h":51,"t":1.2,"b":12,"a":75,"c":69},{"h":75,"t":0.8,"b":1.8,"a":100,"c":100},{"h":69,"t":3.5,"b":20.5,"a":89,"c":78},{"h":89,"t":2.2,"b":5.2,"a":100,"c":100},{"h":78,"t":13.6,"b":27.3,"a":84,"c":84},{"h":84,"t":12.5,"b":14.6,"a":97,"c":97},{"h":84,"t":22,"b":30.7,"a":97,"c":91},{"h":91,"t":30.3,"b":34,"a":100,"c":96},{"h":96,"t":15,"b":39.2,"a":100,"c":100},{"h":10,"t":40.6,"b":51.6,"a":59,"c":32},{"h":59,"t":39.6,"b":41.8,"a":100,"c":72},{"h":72,"t":41,"b":43.8,"a":90,"c":80},{"h":90,"t":40.5,"b":42.5,"a":100,"c":100},{"h":80,"t":43,"b":44.5,"a":100,"c":92},{"h":32,"t":46,"b":57.2,"a":54,"c":31},{"h":54,"t":44.8,"b":47.2,"a":100,"c":65},{"h":65,"t":45.7,"b":48.8,"a":88,"c":75},{"h":88,"t":45.2,"b":46.5,"a":100,"c":100},{"h":75,"t":47.9,"b":50,"a":93,"c":88},{"h":88,"t":49.5,"b":51,"a":100,"c":100},{"h":31,"t":57.2,"b":57.2,"a":50,"c":50},{"h":50,"t":52.2,"b":62.2,"a":71,"c":61},{"h":71,"t":51.6,"b":53.5,"a":100,"c":85},{"h":85,"t":53,"b":54.5,"a":100,"c":100},{"h":61,"t":54.8,"b":69.5,"a":82,"c":71},{"h":82,"t":54.3,"b":55.8,"a":100,"c":100},{"h":71,"t":60,"b":79,"a":81,"c":78},{"h":81,"t":57.5,"b":64.8,"a":93,"c":86},{"h":93,"t":57,"b":59,"a":100,"c":100},{"h":86,"t":62,"b":67,"a":95,"c":93},{"h":93,"t":66,"b":69,"a":100,"c":100},{"h":78,"t":73,"b":84.9,"a":90,"c":81},{"h":90,"t":70,"b":77.6,"a":100,"c":97},{"h":97,"t":76,"b":80,"a":100,"c":100},{"h":81,"t":82.4,"b":87.5,"a":92,"c":93},{"h":92,"t":81,"b":84,"a":100,"c":100},{"h":93,"t":85,"b":90,"a":100,"c":100}]},
"encoding":{"y":{"field":"t","type":"quantitative","axis":null,"scale":{"domain":[0,90],"reverse":true,"nice":false}}},
"layer":[{"mark":{"type":"rule","color":"black","strokeWidth":3.5},"encoding":{"x":{"field":"h","type":"quantitative","axis":null,"scale":{"domain":[0,100],"nice":false}},"y2":{"field":"b"}}},{"mark":{"type":"rule","color":"black","strokeWidth":3.5},"encoding":{"x":{"field":"h","type":"quantitative"},"x2":{"field":"a"}}},{"mark":{"type":"rule","color":"black","strokeWidth":3.5},"encoding":{"x":{"field":"h","type":"quantitative"},"x2":{"field":"c"},"y":{"field":"b","type":"quantitative"}}}]},
{"width":787,"height":1335,"data":{"values":[
{"c":"PM2d","t":0,"b":2,"v":-0.55},{"c":"PM3d","t":0,"b":2,"v":-0.55},{"c":"PM4d","t":0,"b":2,"v":-0.55},{"c":"AM1d","t":0,"b":2,"v":-0.55},
{"c":"PM2d","t":2,"b":39.4,"v":-0.35},{"c":"PM3d","t":2,"b":39.4,"v":-0.35},{"c":"PM4d","t":2,"b":39.4,"v":-0.35},{"c":"AM1d","t":2,"b":39.4,"v":-0.35},
{"c":"PM2d","t":39.4,"b":44.4,"v":-0.83},{"c":"PM3d","t":39.4,"b":44.4,"v":-0.83},{"c":"PM4d","t":39.4,"b":44.4,"v":-0.83},{"c":"AM1d","t":39.4,"b":44.4,"v":-0.83},
{"c":"PM2d","t":44.4,"b":51.2,"v":-0.62},{"c":"PM3d","t":44.4,"b":51.2,"v":-0.62},{"c":"PM4d","t":44.4,"b":51.2,"v":-0.62},{"c":"AM1d","t":44.4,"b":51.2,"v":-0.62},
{"c":"PM2d","t":51.2,"b":54.8,"v":-0.72},{"c":"PM3d","t":51.2,"b":54.8,"v":-0.72},{"c":"PM4d","t":51.2,"b":54.8,"v":-0.72},{"c":"AM1d","t":51.2,"b":54.8,"v":-0.72},
{"c":"PM2d","t":54.8,"b":57.1,"v":-0.55},{"c":"PM3d","t":54.8,"b":57.1,"v":-0.55},{"c":"PM4d","t":54.8,"b":57.1,"v":-0.55},{"c":"AM1d","t":54.8,"b":57.1,"v":-0.55},
{"c":"PM2d","t":57.1,"b":90,"v":-0.41},{"c":"PM3d","t":57.1,"b":90,"v":-0.41},{"c":"PM4d","t":57.1,"b":90,"v":-0.41},{"c":"AM1d","t":57.1,"b":90,"v":-0.41},
{"c":"PF2d","t":0,"b":0.4,"v":0.15},{"c":"PF3d","t":0,"b":0.4,"v":0.75},{"c":"PF4d","t":0,"b":0.4,"v":0.1},{"c":"AF1d","t":0,"b":0.4,"v":1.95},
{"c":"PF2d","t":0.4,"b":1,"v":0.75},{"c":"PF3d","t":0.4,"b":1,"v":0.75},{"c":"PF4d","t":0.4,"b":1,"v":-0.6},{"c":"AF1d","t":0.4,"b":1,"v":2.0},
{"c":"PF2d","t":1,"b":2,"v":0.75},{"c":"PF3d","t":1,"b":2,"v":-0.6},{"c":"PF4d","t":1,"b":2,"v":0.65},{"c":"AF1d","t":1,"b":2,"v":1.75},
{"c":"PF2d","t":2,"b":12.5,"v":-0.35},{"c":"PF3d","t":2,"b":12.5,"v":-0.35},{"c":"PF4d","t":2,"b":12.5,"v":-0.35},{"c":"AF1d","t":2,"b":12.5,"v":2.27},
{"c":"PF2d","t":12.5,"b":14.8,"v":-0.38},{"c":"PF3d","t":12.5,"b":14.8,"v":-0.3},{"c":"PF4d","t":12.5,"b":14.8,"v":0.2},{"c":"AF1d","t":12.5,"b":14.8,"v":2.22},
{"c":"PF2d","t":14.8,"b":17.7,"v":-0.35},{"c":"PF3d","t":14.8,"b":17.7,"v":-0.35},{"c":"PF4d","t":14.8,"b":17.7,"v":0.08},{"c":"AF1d","t":14.8,"b":17.7,"v":2.27},
{"c":"PF2d","t":17.7,"b":21.1,"v":-0.35},{"c":"PF3d","t":17.7,"b":21.1,"v":-0.33},{"c":"PF4d","t":17.7,"b":21.1,"v":0.4},{"c":"AF1d","t":17.7,"b":21.1,"v":2.2},
{"c":"PF2d","t":21.1,"b":23.9,"v":-0.28},{"c":"PF3d","t":21.1,"b":23.9,"v":-0.3},{"c":"PF4d","t":21.1,"b":23.9,"v":0.5},{"c":"AF1d","t":21.1,"b":23.9,"v":2.18},
{"c":"PF2d","t":23.9,"b":27.3,"v":-0.33},{"c":"PF3d","t":23.9,"b":27.3,"v":-0.35},{"c":"PF4d","t":23.9,"b":27.3,"v":0.65},{"c":"AF1d","t":23.9,"b":27.3,"v":2.15},
{"c":"PF2d","t":27.3,"b":30.9,"v":-0.33},{"c":"PF3d","t":27.3,"b":30.9,"v":-0.25},{"c":"PF4d","t":27.3,"b":30.9,"v":0.55},{"c":"AF1d","t":27.3,"b":30.9,"v":2.2},
{"c":"PF2d","t":30.9,"b":31.4,"v":0.05},{"c":"PF3d","t":30.9,"b":31.4,"v":-0.3},{"c":"PF4d","t":30.9,"b":31.4,"v":0.55},{"c":"AF1d","t":30.9,"b":31.4,"v":2.15},
{"c":"PF2d","t":31.4,"b":34,"v":-0.33},{"c":"PF3d","t":31.4,"b":34,"v":-0.33},{"c":"PF4d","t":31.4,"b":34,"v":0.7},{"c":"AF1d","t":31.4,"b":34,"v":2.15},
{"c":"PF2d","t":34,"b":39.4,"v":-0.28},{"c":"PF3d","t":34,"b":39.4,"v":-0.18},{"c":"PF4d","t":34,"b":39.4,"v":0.5},{"c":"AF1d","t":34,"b":39.4,"v":2.12},
{"c":"PF2d","t":39.4,"b":39.9,"v":0.7},{"c":"PF3d","t":39.4,"b":39.9,"v":1.4},{"c":"PF4d","t":39.4,"b":39.9,"v":1.15},{"c":"AF1d","t":39.4,"b":39.9,"v":0.9},
{"c":"PF2d","t":39.9,"b":41,"v":0.1},{"c":"PF3d","t":39.9,"b":41,"v":0.7},{"c":"PF4d","t":39.9,"b":41,"v":1.3},{"c":"AF1d","t":39.9,"b":41,"v":1.0},
{"c":"PF2d","t":41,"b":42.3,"v":0},{"c":"PF3d","t":41,"b":42.3,"v":1.05},{"c":"PF4d","t":41,"b":42.3,"v":1.5},{"c":"AF1d","t":41,"b":42.3,"v":0.7},
{"c":"PF2d","t":42.3,"b":43,"v":0},{"c":"PF3d","t":42.3,"b":43,"v":0.55},{"c":"PF4d","t":42.3,"b":43,"v":1.5},{"c":"AF1d","t":42.3,"b":43,"v":0.9},
{"c":"PF2d","t":43,"b":43.6,"v":0.02},{"c":"PF3d","t":43,"b":43.6,"v":1.05},{"c":"PF4d","t":43,"b":43.6,"v":1.7},{"c":"AF1d","t":43,"b":43.6,"v":0.6},
{"c":"PF2d","t":43.6,"b":44.4,"v":0.25},{"c":"PF3d","t":43.6,"b":44.4,"v":1.15},{"c":"PF4d","t":43.6,"b":44.4,"v":1.45},{"c":"AF1d","t":43.6,"b":44.4,"v":0.35},
{"c":"PF2d","t":44.4,"b":45.5,"v":-0.6},{"c":"PF3d","t":44.4,"b":45.5,"v":-0.6},{"c":"PF4d","t":44.4,"b":45.5,"v":1.95},{"c":"AF1d","t":44.4,"b":45.5,"v":1.1},
{"c":"PF2d","t":45.5,"b":49.6,"v":-0.6},{"c":"PF3d","t":45.5,"b":45.9,"v":0.7},{"c":"PF4d","t":45.5,"b":48.6,"v":1.47},{"c":"AF1d","t":45.5,"b":48.6,"v":1.63},
{"c":"PF3d","t":45.9,"b":49.6,"v":0.05},{"c":"PF4d","t":48.6,"b":49.6,"v":1.75},{"c":"AF1d","t":48.6,"b":49.6,"v":1.6},
{"c":"PF2d","t":49.6,"b":51.2,"v":-0.6},{"c":"PF3d","t":49.6,"b":51.2,"v":0.4},{"c":"PF4d","t":49.6,"b":51.2,"v":1.5},{"c":"AF1d","t":49.6,"b":51.2,"v":1.5},
{"c":"PF2d","t":51.2,"b":52,"v":0.5},{"c":"PF3d","t":51.2,"b":52,"v":0.6},{"c":"PF4d","t":51.2,"b":52,"v":0.6},{"c":"AF1d","t":51.2,"b":52,"v":1.75},
{"c":"PF2d","t":52,"b":54.8,"v":0.15},{"c":"PF3d","t":52,"b":54.8,"v":0.5},{"c":"PF4d","t":52,"b":54.8,"v":1.02},{"c":"AF1d","t":52,"b":54.8,"v":1.72},
{"c":"PF2d","t":54.8,"b":56.8,"v":-0.55},{"c":"PF3d","t":54.8,"b":56.8,"v":0.8},{"c":"PF4d","t":54.8,"b":56.8,"v":0.7},{"c":"AF1d","t":54.8,"b":56.8,"v":1.85},
{"c":"PF2d","t":56.8,"b":57.1,"v":0.3},{"c":"PF3d","t":56.8,"b":57.1,"v":0.15},{"c":"PF4d","t":56.8,"b":57.1,"v":0.75},{"c":"AF1d","t":56.8,"b":57.1,"v":1.95},
{"c":"PF2d","t":57.1,"b":60,"v":-0.35},{"c":"PF3d","t":57.1,"b":60,"v":0.05},{"c":"PF4d","t":57.1,"b":60,"v":0.75},{"c":"AF1d","t":57.1,"b":60,"v":2.0},
{"c":"PF2d","t":60,"b":63.3,"v":-0.3},{"c":"PF3d","t":60,"b":63.3,"v":-0.15},{"c":"PF4d","t":60,"b":63.3,"v":0.75},{"c":"AF1d","t":60,"b":63.3,"v":2.0},
{"c":"PF2d","t":63.3,"b":65,"v":-0.35},{"c":"PF3d","t":63.3,"b":65,"v":0.02},{"c":"PF4d","t":63.3,"b":65,"v":0.55},{"c":"AF1d","t":63.3,"b":65,"v":2.12},
{"c":"PF2d","t":65,"b":67.2,"v":-0.05},{"c":"PF3d","t":65,"b":67.2,"v":-0.02},{"c":"PF4d","t":65,"b":67.2,"v":0.55},{"c":"AF1d","t":65,"b":67.2,"v":2.1},
{"c":"PF2d","t":67.2,"b":72.7,"v":-0.38},{"c":"PF3d","t":67.2,"b":72.7,"v":-0.42},{"c":"PF4d","t":67.2,"b":72.7,"v":0.75},{"c":"AF1d","t":67.2,"b":72.7,"v":2.0},
{"c":"PF2d","t":72.7,"b":79,"v":-0.41},{"c":"PF3d","t":72.7,"b":79,"v":-0.3},{"c":"PF4d","t":72.7,"b":79,"v":0.85},{"c":"AF1d","t":72.7,"b":79,"v":1.9},
{"c":"PF2d","t":79,"b":82.3,"v":-0.41},{"c":"PF3d","t":79,"b":82.3,"v":-0.38},{"c":"PF4d","t":79,"b":82.3,"v":1.05},{"c":"AF1d","t":79,"b":82.3,"v":1.85},
{"c":"PF2d","t":82.3,"b":85,"v":-0.41},{"c":"PF3d","t":82.3,"b":85,"v":-0.15},{"c":"PF4d","t":82.3,"b":85,"v":1.15},{"c":"AF1d","t":82.3,"b":85,"v":1.8},
{"c":"PF2d","t":85,"b":87.4,"v":-0.41},{"c":"PF3d","t":85,"b":87.4,"v":0.02},{"c":"PF4d","t":85,"b":87.4,"v":1.15},{"c":"AF1d","t":85,"b":87.4,"v":1.75},
{"c":"PF2d","t":87.4,"b":90,"v":-0.41},{"c":"PF3d","t":87.4,"b":89.3,"v":-0.1},{"c":"PF4d","t":87.4,"b":90,"v":0.98},{"c":"AF1d","t":87.4,"b":90,"v":1.85},{"c":"PF3d","t":89.3,"b":90,"v":0.03}
]},
"mark":{"type":"rect"},"encoding":{"x":{"field":"c","type":"nominal","sort":["PM2d","PM3d","PM4d","AM1d","PF2d","PF3d","PF4d","AF1d"],"title":null,"axis":{"labelAngle":90,"labelAlign":"left","labelBaseline":"middle","labelFontSize":63,"labelPadding":36,"ticks":false,"domain":false}},"y":{"field":"t","type":"quantitative","axis":null,"scale":{"domain":[0,90],"reverse":true,"nice":false}},"y2":{"field":"b"},"color":{"field":"v","type":"quantitative","scale":{"interpolate":"rgb","domain":[-2.27,-1.51,-0.85,0,0.757,1.51,2.27],"range":["#4575B4","#91BFDB","#E0F3F8","#FFFFBF","#FEE090","#FC8D59","#D73027"]},"legend":{"orient":"none","legendX":884,"legendY":17,"title":null,"values":[-2,-1,0,1,2],"format":"d","gradientLength":786,"gradientThickness":53,"gradientStrokeWidth":0,"labelFontSize":52,"labelColor":"#111","labelOffset":22}}}}
],"spacing":0,"bounds":"flush","resolve":{"scale":{"color":"independent"}}}
],"spacing":1835,"bounds":"flush","resolve":{"scale":{"color":"independent"}}}
]}
